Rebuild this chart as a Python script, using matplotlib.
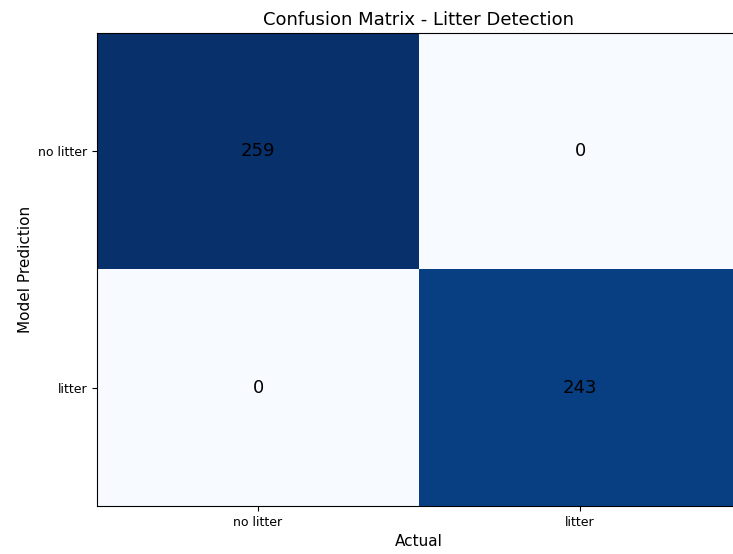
import matplotlib
matplotlib.use("Agg")
import matplotlib.pyplot as plt
import numpy as np

pred_labels = ["no litter", "litter"]
actual_labels = ["no litter", "litter"]
counts = [[259, 0],
          [0, 243]]

cm = np.array(counts)
fig = plt.figure(figsize=(7.33, 5.54), dpi=100)
ax = fig.add_axes([97/733, 48/554, 644/733, 473/554])
ax.imshow(cm, cmap="Blues", aspect="auto", interpolation="nearest")
for i in range(cm.shape[0]):
    for j in range(cm.shape[1]):
        ax.text(j, i, str(cm[i, j]), ha="center", va="center", fontsize=13, color="black")
ax.set_xticks(range(len(actual_labels)))
ax.set_xticklabels(actual_labels, fontsize=9)
ax.set_yticks(range(len(pred_labels)))
ax.set_yticklabels(pred_labels, fontsize=9)
ax.set_xlabel("Actual", fontsize=11)
ax.set_ylabel("Model Prediction", fontsize=11)
ax.set_title("Confusion Matrix - Litter Detection", fontsize=13)
fig.savefig("out.png", dpi=100)
